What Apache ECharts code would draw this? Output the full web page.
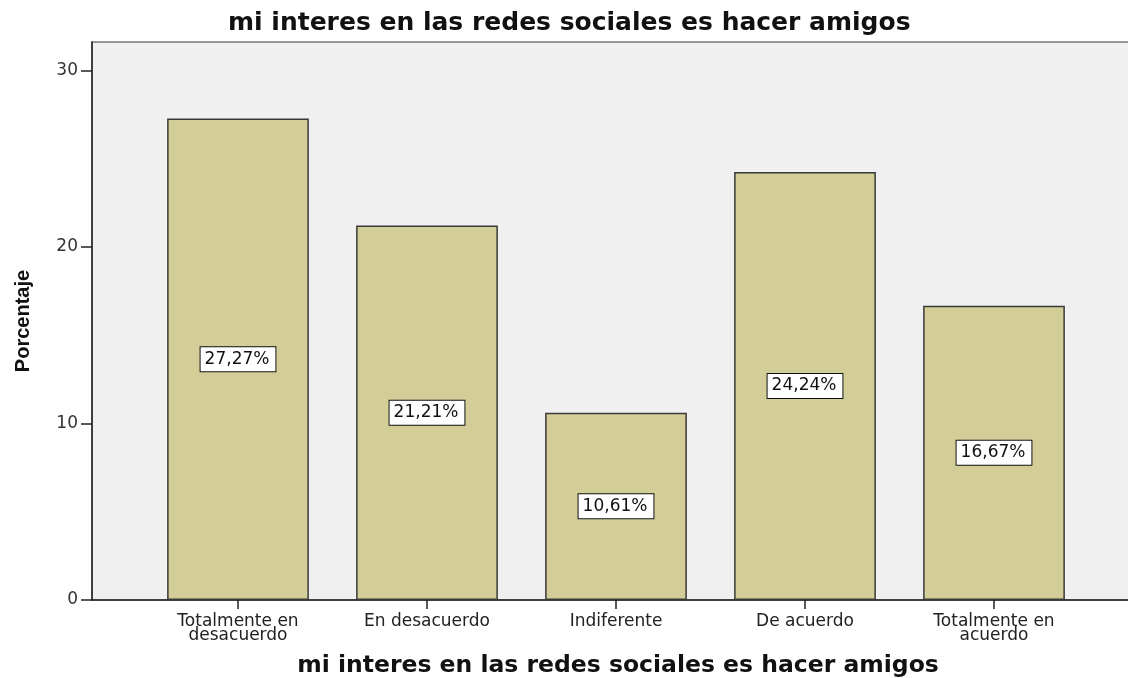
<!DOCTYPE html>
<html>
<head>
<meta charset="utf-8">
<script src="https://cdn.jsdelivr.net/npm/echarts@6/dist/echarts.min.js"></script>
<style>html,body{margin:0;padding:0;background:#fff}#c{width:1128px;height:678px}</style>
</head>
<body>
<div id="c"></div>
<script>
var titleText = "mi interes en las redes sociales es hacer amigos";
var yAxisTitle = "Porcentaje";
var categories = ["Totalmente en\ndesacuerdo", "En desacuerdo", "Indiferente", "De acuerdo", "Totalmente en\nacuerdo"];
var percentages = [27.27, 21.21, 10.61, 24.24, 16.67];
var yTicks = [0, 10, 20, 30];
var yMax = 31.6;

var chart = echarts.init(document.getElementById('c'), null, {renderer: 'canvas'});
chart.setOption({
  animation: false,
  backgroundColor: '#ffffff',
  title: {
    text: titleText,
    left: 223,
    top: 6,
    textStyle: {fontFamily: 'DejaVu Sans', fontWeight: 'bold', fontSize: 25, color: '#111'}
  },
  grid: [
    {left: 92, right: -3, top: 42, bottom: 78, show: true, backgroundColor: '#f0f0f0', borderColor: '#7a7a7a', borderWidth: 1.5, outerBoundsMode: 'none', containLabel: false},
    {left: 143.5, width: 945, top: 42, bottom: 78, outerBoundsMode: 'none', containLabel: false}
  ],
  xAxis: [
    {gridIndex: 0, type: 'value', min: 0, max: 1, axisLine: {show: true, onZero: false, lineStyle: {color: '#222', width: 1.5}},
      axisTick: {show: false}, axisLabel: {show: false}, splitLine: {show: false},
      name: titleText, nameLocation: 'middle', nameGap: 54,
      nameTextStyle: {fontFamily: 'DejaVu Sans', fontWeight: 'bold', fontSize: 23.5, color: '#111', padding: [0, 0, 0, 13]}},
    {gridIndex: 1, type: 'category', data: categories, axisLine: {show: false},
      axisTick: {show: true, alignWithLabel: true, length: 9, lineStyle: {color: '#222', width: 1.5}},
      axisLabel: {margin: 15, fontFamily: 'DejaVu Sans', fontSize: 17, lineHeight: 14, color: '#222', interval: 0}}
  ],
  yAxis: [
    {gridIndex: 0, type: 'value', min: 0, max: yMax,
      axisLine: {show: true, onZero: false, lineStyle: {color: '#222', width: 1.5}},
      axisTick: {show: true, length: 11, customValues: yTicks, lineStyle: {color: '#222', width: 1.5}},
      axisLabel: {customValues: yTicks, margin: 14, fontFamily: 'DejaVu Sans', fontSize: 17, color: '#333'},
      splitLine: {show: false},
      name: yAxisTitle, nameLocation: 'middle', nameGap: 59,
      nameTextStyle: {fontFamily: 'Liberation Sans', fontWeight: 'bold', fontSize: 20, color: '#111'}},
    {gridIndex: 1, type: 'value', min: 0, max: yMax, show: false, splitLine: {show: false}}
  ],
  series: [{
    type: 'bar',
    xAxisIndex: 1, yAxisIndex: 1,
    data: percentages,
    barWidth: '75%',
    itemStyle: {color: '#d3ce97', borderColor: '#3a3a3a', borderWidth: 1.5},
    label: {
      show: true, position: 'inside',
      formatter: function (p) { return p.value.toFixed(2).replace('.', ',') + '%'; },
      backgroundColor: '#ffffff', borderColor: '#111', borderWidth: 1,
      padding: [4, 6, 3, 4], fontFamily: 'DejaVu Sans', fontSize: 17, color: '#111'
    }
  }]
});
</script>
</body>
</html>
